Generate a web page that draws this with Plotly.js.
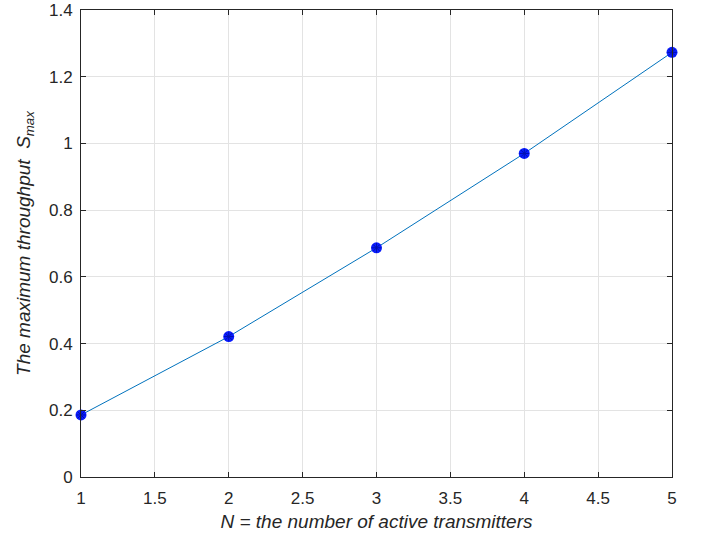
<!DOCTYPE html>
<html>
<head>
<meta charset="utf-8">
<script src="https://cdn.plot.ly/plotly-3.0.1.min.js"></script>
<style>html,body{margin:0;padding:0;background:#fff;}#chart{width:701px;height:536px;}</style>
</head>
<body>
<div id="chart"></div>
<script>
const transmitters = [1, 2, 3, 4, 5];
const maxThroughput = [0.186, 0.421, 0.687, 0.970, 1.273];
const xTicks = [1, 1.5, 2, 2.5, 3, 3.5, 4, 4.5, 5];
const xTickLabels = ['1', '1.5', '2', '2.5', '3', '3.5', '4', '4.5', '5'];
const yTicks = [0, 0.2, 0.4, 0.6, 0.8, 1, 1.2, 1.4];
const yTickLabels = ['0', '0.2', '0.4', '0.6', '0.8', '1', '1.2', '1.4'];

const fontFam = 'Liberation Sans, Arial, sans-serif';
const traces = [
  {
    x: transmitters, y: maxThroughput, type: 'scatter', mode: 'lines+markers',
    line: {color: '#0072BD', width: 1},
    marker: {symbol: 'circle', size: 11, color: '#0a1cff', line: {width: 0}},
    cliponaxis: false, hoverinfo: 'skip', showlegend: false
  },
  {
    x: transmitters, y: maxThroughput, type: 'scatter', mode: 'markers',
    marker: {symbol: 'asterisk-open', size: 8, color: '#0010b0', line: {width: 1, color: '#0010b0'}},
    cliponaxis: false, hoverinfo: 'skip', showlegend: false
  }
];
const axisCommon = {
  showline: true, linecolor: '#262626', linewidth: 1, mirror: 'ticks',
  ticks: 'inside', ticklen: 5, tickcolor: '#262626', tickwidth: 1,
  showgrid: true, gridcolor: '#e3e3e3', gridwidth: 1, zeroline: false,
  tickfont: {family: fontFam, size: 17, color: '#262626'}
};
const layout = {
  width: 701, height: 536,
  margin: {l: 81, r: 29, t: 10, b: 59},
  paper_bgcolor: '#ffffff', plot_bgcolor: '#ffffff',
  xaxis: Object.assign({}, axisCommon, {
    range: [1, 5], tickmode: 'array', tickvals: xTicks, ticktext: xTickLabels,
    ticklabelstandoff: 6,
    title: {text: '<i>N = the number of active transmitters</i>', font: {family: fontFam, size: 19, color: '#262626'}, standoff: 7}
  }),
  yaxis: Object.assign({}, axisCommon, {
    range: [0, 1.4], tickmode: 'array', tickvals: yTicks, ticktext: yTickLabels,
    ticklabelstandoff: 4,
    title: {text: '<i>The maximum throughput  S<sub>max</sub></i>', font: {family: fontFam, size: 19, color: '#262626'}, standoff: 13}
  })
};
Plotly.newPlot('chart', traces, layout, {displayModeBar: false, staticPlot: true});
</script>
</body>
</html>
